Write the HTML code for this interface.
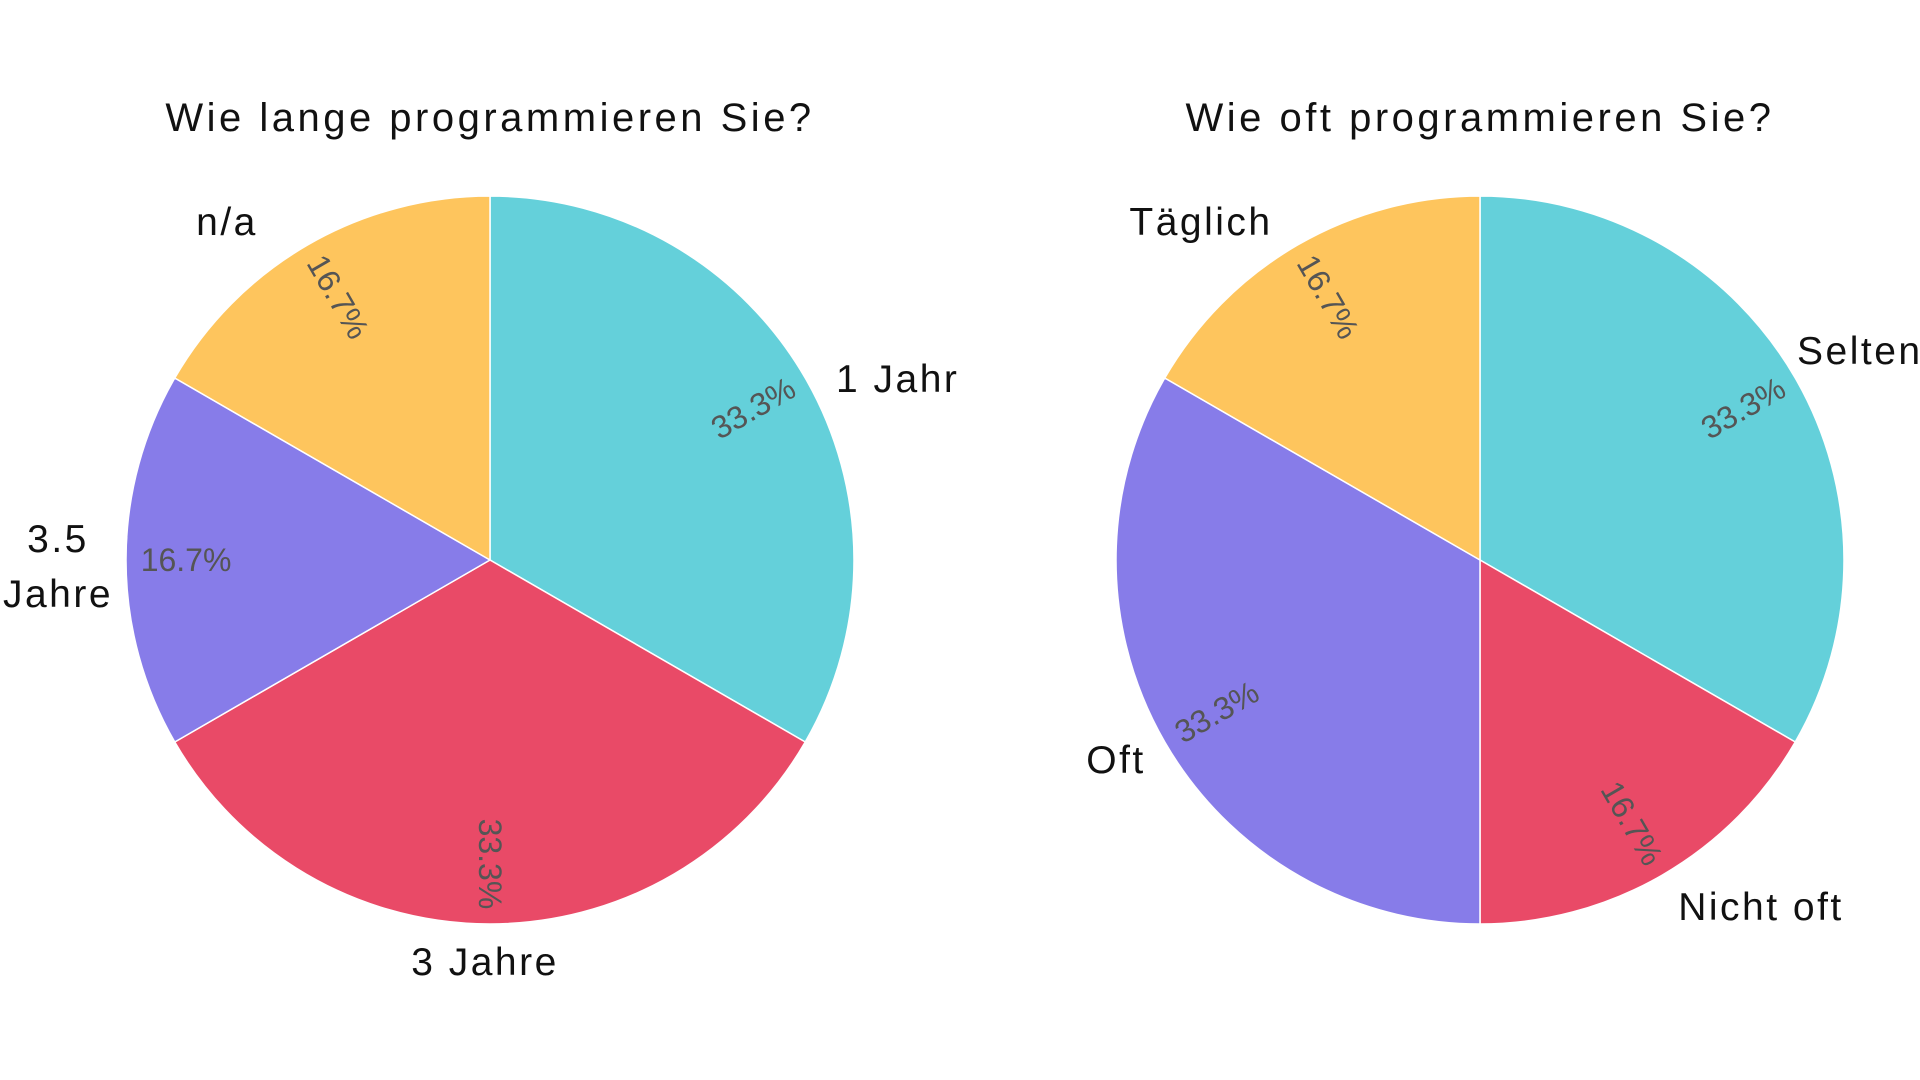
<!DOCTYPE html>
<html><head><meta charset="utf-8"><style>
html,body{margin:0;padding:0;background:#fff;}
svg{display:block;font-family:"Liberation Sans",sans-serif;}
</style></head><body>
<svg id="chart" width="1920" height="1080" viewBox="0 0 1920 1080">
<text x="490" y="131" font-size="40" letter-spacing="3.5" text-anchor="middle" fill="#111">Wie lange programmieren Sie?</text>
<text x="1480" y="131" font-size="40" letter-spacing="3.5" text-anchor="middle" fill="#111">Wie oft programmieren Sie?</text>
<g id="left"></g>
<g id="right"></g>
</svg>
<script>
const leftCategories = ["1 Jahr","3 Jahre","3.5 Jahre","n/a"];
const leftValues = [2,2,1,1];
const rightCategories = ["Selten","Nicht oft","Oft","Täglich"];
const rightValues = [2,1,2,1];
const colors = ["#64D0DA","#E94A67","#877CE9","#FEC55D"];
const R = 364;
const NS = "http://www.w3.org/2000/svg";
const leftLabelPos = [[836,392,"start",["1 Jahr"]],[485,975,"middle",["3 Jahre"]],[58,552,"middle",["3.5","Jahre"]],[227,235,"middle",["n/a"]]];
const rightLabelPos = [[1797,364,"start",["Selten"]],[1761,920,"middle",["Nicht oft"]],[1116,773,"middle",["Oft"]],[1201,235,"middle",["Täglich"]]];
function drawPie(g, cx, cy, cats, vals, lpos){
  const total = vals.reduce((a,b)=>a+b,0);
  let a0 = 0;
  vals.forEach((v,i)=>{
    const a1 = a0 + v/total*360;
    const p = a=>[cx+R*Math.sin(a*Math.PI/180), cy-R*Math.cos(a*Math.PI/180)];
    const [x0,y0]=p(a0),[x1,y1]=p(a1);
    const path=document.createElementNS(NS,"path");
    path.setAttribute("d",`M${cx},${cy} L${x0},${y0} A${R},${R} 0 ${a1-a0>180?1:0} 1 ${x1},${y1} Z`);
    path.setAttribute("fill",colors[i]);
    path.setAttribute("stroke","#fff");
    path.setAttribute("stroke-width","1.5");
    
    
    g.appendChild(path);
    const mid=(a0+a1)/2, rr=R*0.835;
    const tx=cx+rr*Math.sin(mid*Math.PI/180), ty=cy-rr*Math.cos(mid*Math.PI/180);
    let rot=mid-90; while(rot>90) rot-=180; while(rot<-90) rot+=180;
    const t=document.createElementNS(NS,"text");
    t.setAttribute("x",tx);t.setAttribute("y",ty);
    t.setAttribute("font-size","32");t.setAttribute("fill","#555");
    t.setAttribute("text-anchor","middle");t.setAttribute("dominant-baseline","central");
    t.setAttribute("transform",`rotate(${rot} ${tx} ${ty})`);
    t.textContent=(v/total*100).toFixed(1)+"%";
    
    
    g.appendChild(t);
    const L=lpos[i];
    L[3].forEach((line,k)=>{
      const lt=document.createElementNS(NS,"text");
      lt.setAttribute("x",L[0]);lt.setAttribute("y",L[1]+k*55);
      lt.setAttribute("font-size","39");lt.setAttribute("fill","#111");
      lt.setAttribute("letter-spacing","2.5");
      lt.setAttribute("text-anchor",L[2]);
      lt.textContent=line;
      
      
      g.appendChild(lt);
    });
    a0=a1;
  });
}
drawPie(document.getElementById("left"),490,560,leftCategories,leftValues,leftLabelPos);
drawPie(document.getElementById("right"),1480,560,rightCategories,rightValues,rightLabelPos);
</script>
</body></html>
